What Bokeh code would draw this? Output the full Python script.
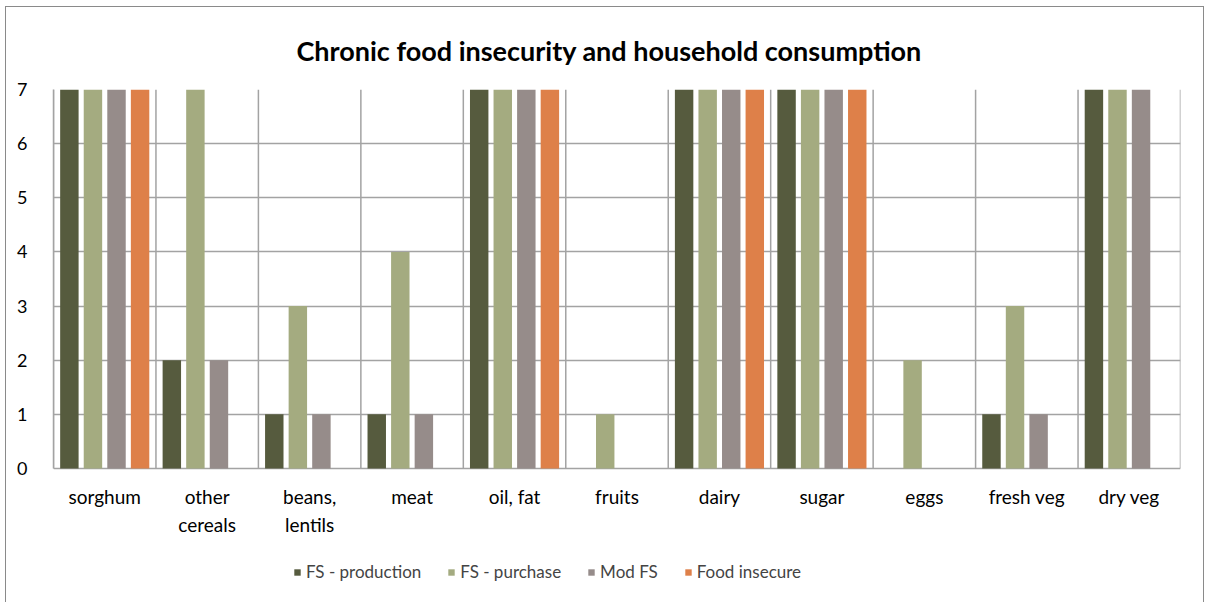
from bokeh.plotting import figure
from bokeh.models import FactorRange, FixedTicker, Legend, LegendItem, Title, Range1d
from bokeh.transform import dodge
from bokeh.core.properties import value
from bokeh.embed import file_html
from bokeh.resources import INLINE

categories = ["sorghum", "other\ncereals", "beans,\nlentils", "meat", "oil, fat", "fruits",
              "dairy", "sugar", "eggs", "fresh veg", "dry veg"]
fs_production = [7, 2, 1, 1, 7, 0, 7, 7, 0, 1, 7]
fs_purchase = [7, 7, 3, 4, 7, 1, 7, 7, 2, 3, 7]
mod_fs = [7, 2, 1, 1, 7, 0, 7, 7, 0, 1, 7]
food_insecure = [7, 0, 0, 0, 7, 0, 7, 7, 0, 0, 0]
series_names = ["FS - production", "FS - purchase", "Mod FS", "Food insecure"]
y_ticks = [0, 1, 2, 3, 4, 5, 6, 7]
colors = ["#565B3E", "#A4AB80", "#968C8A", "#DE8049"]

FONT = "Lato"
GRID = "#A3A3A3"

# layout: plotting area 379px tall for 0..7, extra frame space below for labels and legend
PLOT_H = 379
FRAME_H = 509
y_max = max(y_ticks)
y_min = -(FRAME_H - PLOT_H) * y_max / PLOT_H

data = dict(cats=categories, s0=fs_production, s1=fs_purchase, s2=mod_fs, s3=food_insecure,
            base=[0] * len(categories))

p = figure(x_range=FactorRange(*categories, range_padding=0), y_range=Range1d(y_min, y_max),
           frame_width=1127, frame_height=FRAME_H, x_axis_location=None,
           output_backend="svg", toolbar_location=None,
           min_border_left=47, min_border_right=23, min_border_top=82, min_border_bottom=4)
p.styles = {"border": "1px solid #8a8a8a", "border-bottom": "none",
            "margin-left": "5px", "margin-top": "6px"}
p.outline_line_color = None
p.xgrid.visible = False

# vertical separators between categories
bounds = list(range(len(categories) + 1))
p.segment(x0=bounds, y0=[min(y_ticks)] * len(bounds), x1=bounds, y1=[y_max] * len(bounds),
          line_color=GRID, line_width=1.5, level="underlay")

offsets = [-0.345, -0.115, 0.115, 0.345]
renderers = []
for i, off in enumerate(offsets):
    r = p.vbar(x=dodge("cats", off, range=p.x_range), top="s%d" % i, width=0.18, source=data,
               fill_color=colors[i], line_color=None)
    renderers.append(r)

# category labels below the zero line
p.text(x="cats", y="base", text="cats", source=data, y_offset=16, text_align="center",
       text_baseline="top", text_font=value(FONT), text_font_size="19px", text_color="#000000",
       text_line_height=1.25)

title = Title(text="Chronic food insecurity and household consumption", align="left",
              text_font=FONT, text_font_size="27px", text_font_style="bold", text_color="#000000",
              offset=243, standoff=46)
p.add_layout(title, "above")

p.yaxis.ticker = FixedTicker(ticks=y_ticks)
p.yaxis.bounds = (min(y_ticks), y_max)
p.ygrid.ticker = FixedTicker(ticks=y_ticks)
p.ygrid.grid_line_color = GRID
p.ygrid.grid_line_width = 1.5
p.yaxis.axis_line_color = GRID
p.yaxis.axis_line_width = 1.5
p.yaxis.major_tick_line_color = None
p.yaxis.minor_tick_line_color = None
p.yaxis.major_label_text_font = FONT
p.yaxis.major_label_text_color = "#000000"
p.yaxis.major_label_text_font_size = "18px"
p.yaxis.major_label_standoff = 20

legend = Legend(items=[LegendItem(label=series_names[i], renderers=[renderers[i]]) for i in range(4)],
                orientation="horizontal", location=(240, 16), border_line_color=None,
                background_fill_alpha=0, label_text_font=FONT, label_text_font_size="17px",
                glyph_width=8, glyph_height=8, spacing=26, label_standoff=5, margin=0, padding=4)
p.add_layout(legend, "center")

open("out.html", "w").write(file_html(p, INLINE))
